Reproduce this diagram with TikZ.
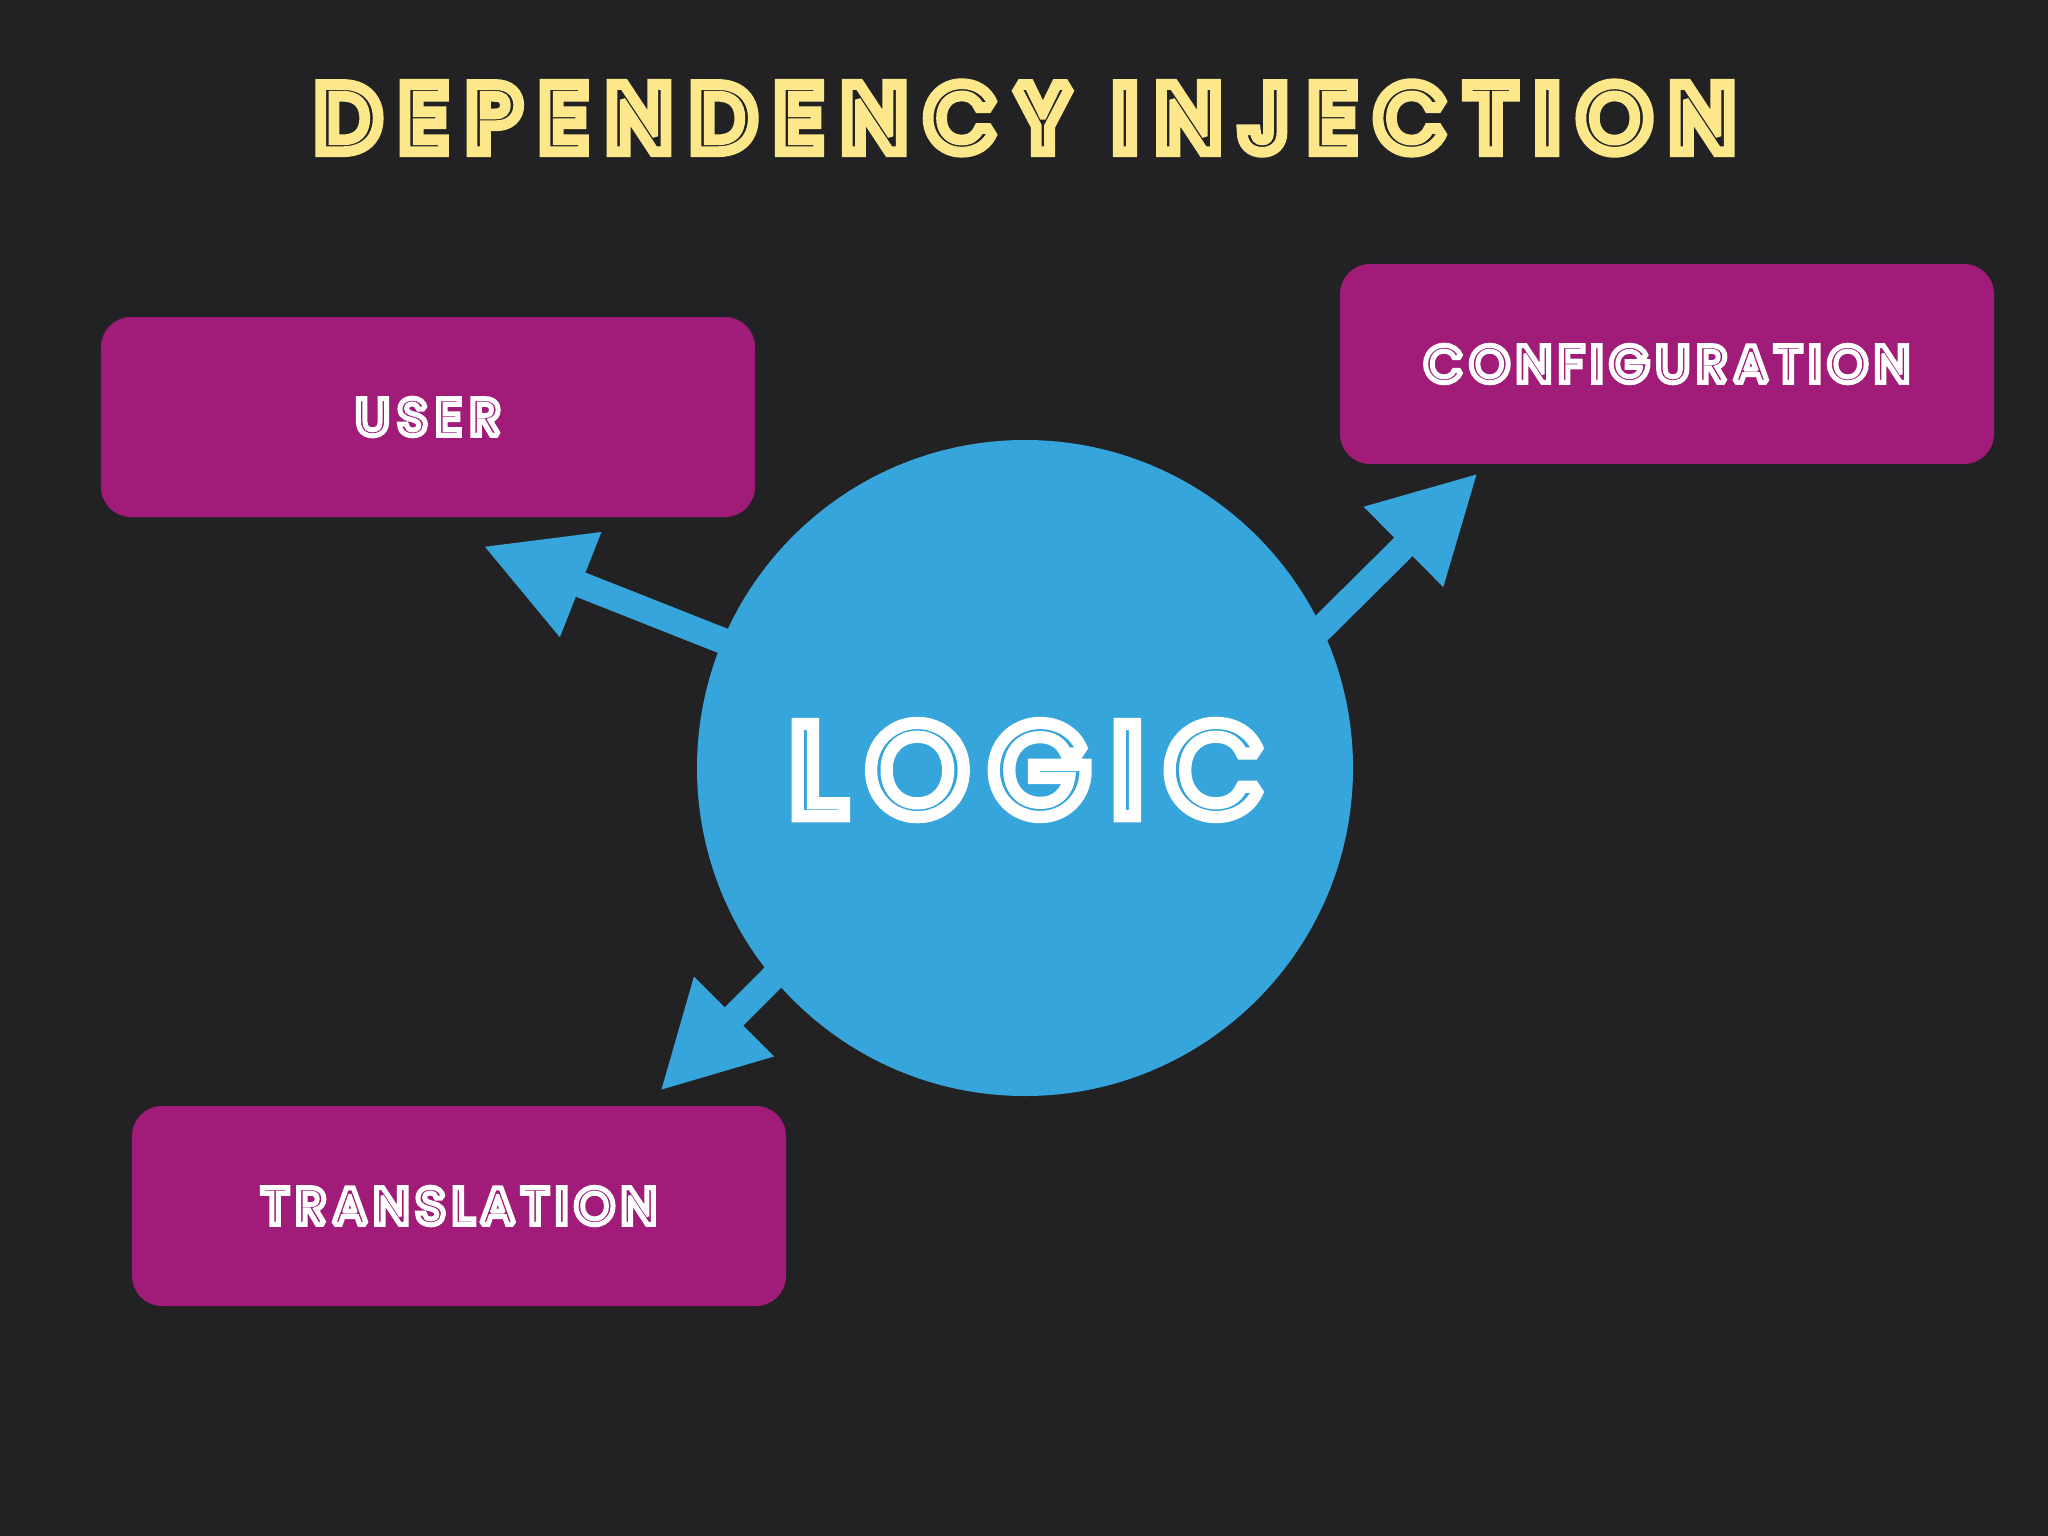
\documentclass[tikz,border=0pt]{standalone}
\usepackage{fontspec}
\setmainfont{Poppins}
\usetikzlibrary{arrows.meta}
\definecolor{bg}{RGB}{34,34,36}
\definecolor{dyellow}{RGB}{252,232,138}
\definecolor{dblue}{RGB}{54,165,219}
\definecolor{dmag}{RGB}{160,28,120}
% #1 main colour, #2 inline colour, #3 outer stroke, #4 inner stroke, #5 text
\newcommand\inlinetxt[5]{%
  \leavevmode\rlap{\color{#1}\special{pdf:literal 2 Tr #3 w 0 j 1.6 M}#5\special{pdf:literal 0 Tr}}%
  \rlap{\color{#2}#5}%
  {\color{#1}\special{pdf:literal 1 Tr #4 w 0 j 1.6 M}#5\special{pdf:literal 0 Tr}}}
\tikzset{
  boxnode/.style={fill=dmag, rounded corners=30bp, minimum width=654bp, minimum height=200bp, inner sep=0pt,
    font=\fontsize{50bp}{60bp}\selectfont\addfontfeature{LetterSpace=#1}},
  boxnode/.default=14,
  arr/.style={draw=dblue, line width=26bp, -{Triangle[length=105bp,width=105bp]}},
}
\begin{document}
\begin{tikzpicture}[x=1bp,y=-1bp]
\fill[bg] (0,0) rectangle (2048,1536);
\useasboundingbox (0,0) rectangle (2048,1536);
% arrows
\coordinate (us) at (880,703);
\coordinate (ut) at (483,546);
\coordinate (cs) at (1254,695);
\coordinate (ct) at (1478,473);
\coordinate (ts) at (836,914);
\coordinate (tt) at (660,1091);
\draw[arr] (us) -- (ut);
\draw[arr] (cs) -- (ct);
\draw[arr] (ts) -- (tt);
% circle
\node[circle, fill=dblue, minimum size=656bp, inner sep=0pt] (logic) at (1025,768) {};
% boxes
\node[boxnode=17] (user) at (428,417) {\inlinetxt{white}{dmag}{7}{3}{USER}};
\node[boxnode] (config) at (1667,364) {\inlinetxt{white}{dmag}{7}{3}{CONFIGURATION}};
\node[boxnode] (trans) at (459,1206) {\inlinetxt{white}{dmag}{7}{3}{TRANSLATION}};
% texts
\node[inner sep=0pt, font=\fontsize{127bp}{140bp}\selectfont\addfontfeature{LetterSpace=18}] (logictxt) at (1027,770) {\inlinetxt{white}{dblue}{16}{8.5}{LOGIC}};
\node[inner sep=0pt, font=\fontsize{89bp}{100bp}\selectfont\addfontfeature{LetterSpace=24}] (title) at (1025,118) {\inlinetxt{dyellow}{bg}{16}{5.6}{DEPENDENCY INJECTION}};
\end{tikzpicture}
\end{document}
